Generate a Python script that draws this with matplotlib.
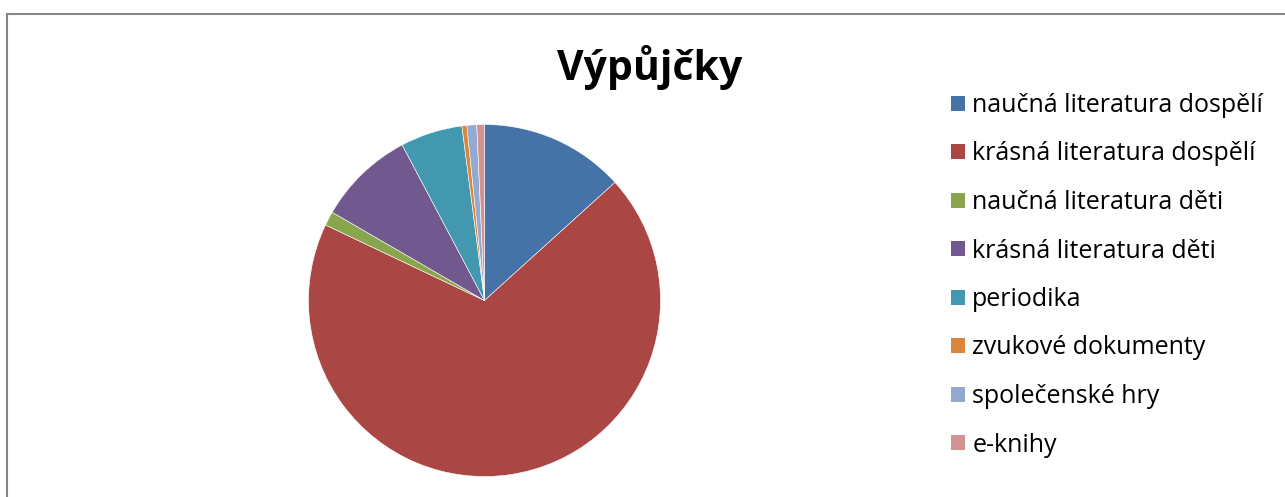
import matplotlib
matplotlib.use("Agg")
import matplotlib.pyplot as plt
from matplotlib.patches import Patch
from matplotlib.lines import Line2D

plt.rcParams['font.family'] = ['Open Sans', 'DejaVu Sans']

# Výpůjčky podle typu dokumentu (podíl v %)
kategorie = ["naučná literatura dospělí", "krásná literatura dospělí",
             "naučná literatura děti", "krásná literatura děti", "periodika",
             "zvukové dokumenty", "společenské hry", "e-knihy"]
hodnoty = [13.3, 68.8, 1.3, 8.9, 5.7, 0.45, 0.9, 0.7]
barvy = ["#4572A7", "#AA4643", "#89A54E", "#71588F", "#4198AF",
         "#DB843D", "#93A9CF", "#D19392"]

W, H = 1285, 497
fig = plt.figure(figsize=(W / 100, H / 100), dpi=100)

# ramecek grafu (jen levy a horni okraj je videt)
fig.add_artist(Line2D([7 / W, 7 / W], [0, 1 - 13.5 / H], color="#868686", lw=1.5))
fig.add_artist(Line2D([7 / W, 1], [1 - 13.5 / H, 1 - 13.5 / H], color="#868686", lw=1.5))

cx, cy, r = 484.5, 300.5, 176
ax = fig.add_axes([(cx - r) / W, (H - cy - r) / H, 2 * r / W, 2 * r / H])
ax.pie(hodnoty, colors=barvy, startangle=90, counterclock=False,
       wedgeprops=dict(edgecolor="white", linewidth=0.4))
ax.set_xlim(-1, 1)
ax.set_ylim(-1, 1)
ax.set_aspect("equal")
ax.axis("off")

fig.text(650 / W, 1 - 67 / H, "Výpůjčky", ha="center", va="center",
         fontsize=29.5, fontweight="bold")

handles = [Patch(facecolor=c, edgecolor="none") for c in barvy]
fig.legend(handles, kategorie, loc="upper left",
           bbox_to_anchor=(941 / W, 1 - 83 / H), frameon=False,
           fontsize=18, handlelength=0.55, handleheight=0.55,
           handletextpad=0.3, labelspacing=0.94, borderaxespad=0)

plt.savefig("out.png", dpi=100)
